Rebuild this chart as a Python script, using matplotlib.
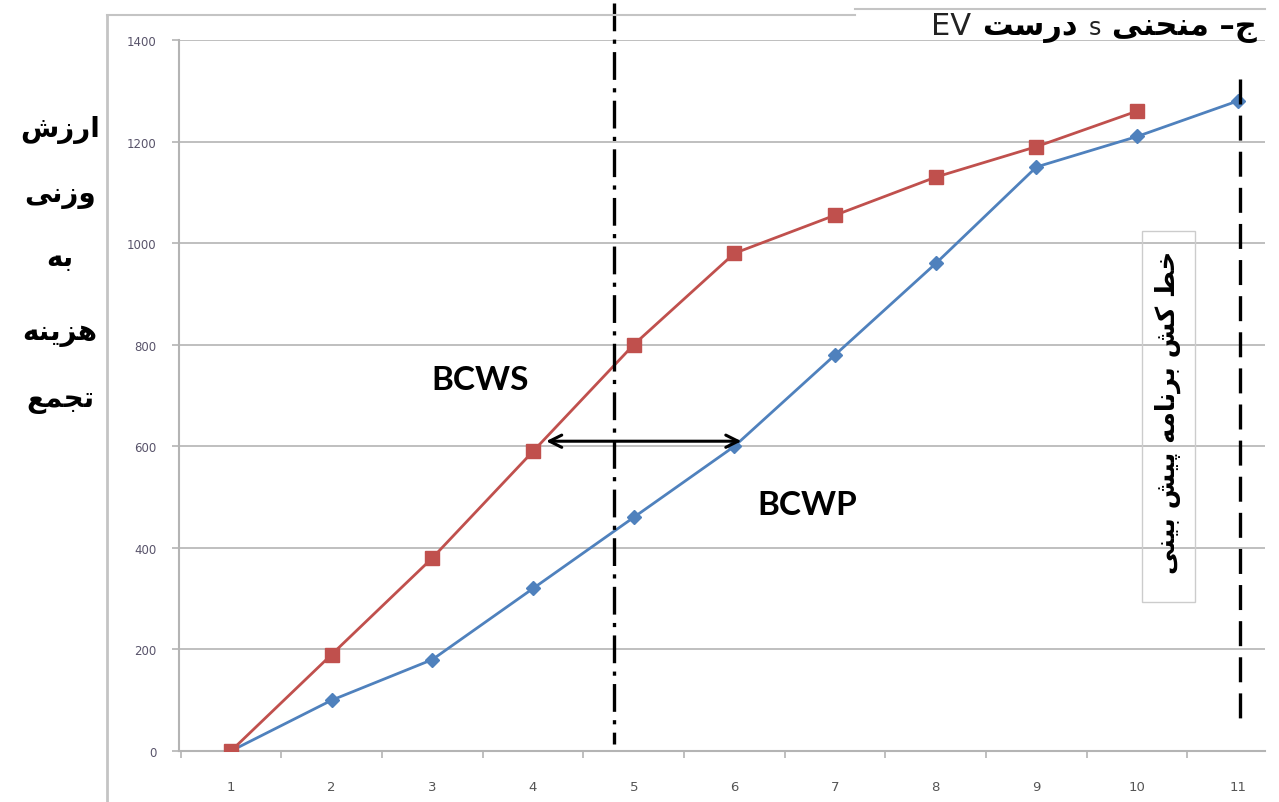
import numpy as np
import matplotlib
matplotlib.use("Agg")
import matplotlib.pyplot as plt
from matplotlib.lines import Line2D
from matplotlib.patches import Rectangle
from matplotlib.offsetbox import TextArea, HPacker, AnchoredOffsetbox

# cumulative weighted cost per period
periods = np.arange(1, 12)
bcws = [0, 190, 380, 590, 800, 980, 1055, 1130, 1190, 1260]          # planned (periods 1-10)
bcwp = [0, 100, 180, 320, 460, 600, 780, 960, 1150, 1210, 1280]      # earned (periods 1-11)

ylabel_lines = ["ارزش", "وزنی", "به", "هزینه", "تجمع"]
ruler_label = "خط کش برنامه پیش بینی"
status_date = 4.8
forecast_end = 11.02

# Persian letters -> (isolated, final, initial, medial) presentation forms
FORMS = {
    'ا': ('\uFE8D', '\uFE8E', None, None),
    'ب': ('\uFE8F', '\uFE90', '\uFE91', '\uFE92'),
    'پ': ('\uFB56', '\uFB57', '\uFB58', '\uFB59'),
    'ت': ('\uFE95', '\uFE96', '\uFE97', '\uFE98'),
    'ج': ('\uFE9D', '\uFE9E', '\uFE9F', '\uFEA0'),
    'ح': ('\uFEA1', '\uFEA2', '\uFEA3', '\uFEA4'),
    'خ': ('\uFEA5', '\uFEA6', '\uFEA7', '\uFEA8'),
    'د': ('\uFEA9', '\uFEAA', None, None),
    'ر': ('\uFEAD', '\uFEAE', None, None),
    'ز': ('\uFEAF', '\uFEB0', None, None),
    'س': ('\uFEB1', '\uFEB2', '\uFEB3', '\uFEB4'),
    'ش': ('\uFEB5', '\uFEB6', '\uFEB7', '\uFEB8'),
    'ط': ('\uFEC1', '\uFEC2', '\uFEC3', '\uFEC4'),
    'ع': ('\uFEC9', '\uFECA', '\uFECB', '\uFECC'),
    'ک': ('\uFB8E', '\uFB8F', '\uFB90', '\uFB91'),
    'ل': ('\uFEDD', '\uFEDE', '\uFEDF', '\uFEE0'),
    'م': ('\uFEE1', '\uFEE2', '\uFEE3', '\uFEE4'),
    'ن': ('\uFEE5', '\uFEE6', '\uFEE7', '\uFEE8'),
    'ه': ('\uFEE9', '\uFEEA', '\uFEEB', '\uFEEC'),
    'و': ('\uFEED', '\uFEEE', None, None),
    'ی': ('\uFBFC', '\uFBFD', '\uFBFE', '\uFBFF'),
}


def shape(text):
    """Join Persian letters and return the string in display order."""
    out = []
    for i, c in enumerate(text):
        if c not in FORMS:
            out.append(c)
            continue
        prev = text[i - 1] if i > 0 else None
        nxt = text[i + 1] if i + 1 < len(text) else None
        join_prev = prev in FORMS and FORMS[prev][2] is not None
        join_next = nxt in FORMS and FORMS[c][2] is not None
        iso, fin, ini, med = FORMS[c]
        if join_prev and join_next:
            out.append(med)
        elif join_prev:
            out.append(fin)
        elif join_next:
            out.append(ini)
        else:
            out.append(iso)
    return ''.join(reversed(out))


plt.rcParams['lines.scale_dashes'] = False
W, H = 1279, 803
fig = plt.figure(figsize=(W / 100, H / 100), dpi=100)
ax = fig.add_axes([179 / W, 51 / H, 1086 / W, 711 / H])

grid_c = '#b4b4b4'
ax.set_ylim(0, 1400)
ax.set_xlim(0.484, 11.27)
ax.set_yticks(np.arange(0, 1401, 200))
ax.yaxis.grid(True, color=grid_c, lw=1.2)
ax.set_axisbelow(True)
for s in ['top', 'right']:
    ax.spines[s].set_visible(False)
for s in ['left', 'bottom']:
    ax.spines[s].set_color(grid_c)
    ax.spines[s].set_linewidth(1.5)

ax.set_xticks(periods)
ax.set_xticks(np.arange(0.5, 11.5, 1), minor=True)
ax.tick_params(axis='x', which='major', length=0, pad=21, labelsize=9.5, labelcolor='#555555')
ax.tick_params(axis='x', which='minor', length=5, color=grid_c, width=1.2)
ax.tick_params(axis='y', length=5, color=grid_c, width=1.2, pad=11, labelsize=8.5, labelcolor='#58536a')

ax.plot(periods, bcwp, color='#4F81BD', lw=2, marker='D', ms=7,
        mfc='#4F81BD', mec='#4F81BD', zorder=3)
ax.plot(periods[:len(bcws)], bcws, color='#C0504D', lw=2, marker='s', ms=10,
        mfc='#C0504D', mec='#C0504D', zorder=4)

# status date (dash-dot) and forecast end (dashed)
ax.plot([status_date, status_date], [1472, 14], color='black', lw=2.4,
        dashes=(20, 6, 3, 6), clip_on=False, zorder=5)
ax.plot([forecast_end, forecast_end], [1323, 43], color='black', lw=2.4,
        dashes=(18, 8), clip_on=False, zorder=5)

# schedule gap between planned and earned curves
ax.annotate('', xy=(4.13, 610), xytext=(6.07, 610),
            arrowprops=dict(arrowstyle='<->', color='black', lw=2.2,
                            mutation_scale=22, shrinkA=0, shrinkB=0), zorder=6)

ax.text(3.47, 732, 'BCWS', fontsize=24, fontweight='bold', family='Lato',
        ha='center', va='center')
ax.text(6.72, 486, 'BCWP', fontsize=24, fontweight='bold', family='Lato',
        ha='center', va='center')

# vertical axis caption
for ytxt, line in zip([130, 195, 258, 333, 400], ylabel_lines):
    fig.text(60 / W, 1 - ytxt / H, shape(line), fontsize=20, fontweight='bold',
             family='DejaVu Sans', ha='center', va='center')

# forecast ruler label box
fig.patches.append(Rectangle((1142 / W, 1 - 603 / H), 53 / W, 371 / H,
                             transform=fig.transFigure, fill=False,
                             edgecolor='#cccccc', lw=1))
fig.text(1168 / W, 1 - 412 / H, shape(ruler_label), rotation=90, fontsize=18.5,
         fontweight='bold', family='DejaVu Sans', ha='center', va='center')

# chart area border
fig.add_artist(Line2D([107 / W, 107 / W], [0, 1 - 16 / H], transform=fig.transFigure,
                      color='#c4c4c4', lw=2))
fig.add_artist(Line2D([107 / W, 855 / W], [1 - 16 / H, 1 - 16 / H], transform=fig.transFigure,
                      color='#c4c4c4', lw=1.5))
fig.add_artist(Line2D([855 / W, 1265 / W], [1 - 10 / H, 1 - 10 / H], transform=fig.transFigure,
                      color='#c4c4c4', lw=1.5))

# title: "ج– منحنی s درست EV"
bold = dict(fontsize=22, fontweight='bold', family='DejaVu Sans', color='black')
plain = dict(fontsize=22, family='DejaVu Sans', color='#222222')
title_box = HPacker(children=[TextArea('EV', textprops=plain),
                              TextArea(shape('درست'), textprops=bold),
                              TextArea('s', textprops=dict(plain, fontsize=17)),
                              TextArea(shape('ج– منحنی'), textprops=bold)],
                    align='baseline', pad=0, sep=8)
fig.add_artist(AnchoredOffsetbox(loc='upper right', child=title_box, pad=0, borderpad=0,
                                 frameon=False, bbox_to_anchor=(1257 / W, 1 - 12 / H),
                                 bbox_transform=fig.transFigure))

fig.savefig('out.png', dpi=100)
